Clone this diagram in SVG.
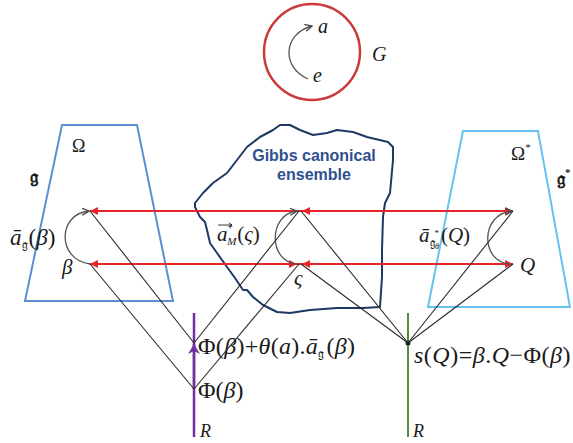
<svg xmlns="http://www.w3.org/2000/svg" width="573" height="443" viewBox="0 0 573 443">
<style>
.m{font-family:"Liberation Serif","DejaVu Serif","DejaVu Sans",serif;fill:#1a1a1a}
.i{font-style:italic}
.blk{stroke:#2a2a2a;stroke-width:1.1;fill:none}
.red{stroke:#e8262a;stroke-width:2;fill:none}
.arc{stroke:#555;stroke-width:1.3;fill:none}
.gb{font-family:"Liberation Sans",Arial,sans-serif;font-weight:bold;font-size:16px;fill:#2f4f8f}
</style>
<defs>
<marker id="ab" markerWidth="8" markerHeight="8" refX="7" refY="4" orient="auto" markerUnits="userSpaceOnUse"><path d="M0,0.5 L7,4 L0,7.5" fill="none" stroke="#444" stroke-width="1.3"/></marker>
<marker id="ar" markerWidth="9" markerHeight="8" refX="8" refY="4" orient="auto-start-reverse" markerUnits="userSpaceOnUse"><path d="M0,0 L8,4 L0,8 z" fill="#e8262a"/></marker>
<marker id="ap" markerWidth="12" markerHeight="12" refX="10" refY="6" orient="auto" markerUnits="userSpaceOnUse"><path d="M0,0 L10,6 L0,12 L3,6 z" fill="#7030a0"/></marker>
</defs>

<g id="group-G">
<circle cx="312" cy="52" r="48" fill="none" stroke="#cc3a3a" stroke-width="2.5"/>
<path d="M308,79 C282,68 282,34 312,26" class="arc" marker-end="url(#ab)"/>
<text x="318" y="33" class="m i" font-size="20">a</text>
<text x="313" y="82" class="m i" font-size="20">e</text>
<text x="372" y="61" class="m i" font-size="20">G</text>
</g>

<g id="omega">
<polygon points="62,125 137,125 173,301 25,301" fill="none" stroke="#5b8fd0" stroke-width="2"/>
<text x="72" y="152" class="m" font-size="18">Ω</text>
<text x="30" y="183" class="m" font-size="19" font-weight="bold">𝔤</text>
<text x="10" y="245" class="m" font-size="23"><tspan class="i">ā</tspan><tspan font-size="13" dy="4">𝔤</tspan><tspan dy="-4" dx="1">(</tspan><tspan class="i">β</tspan>)</text>
<text x="62" y="274" class="m i" font-size="21">β</text>
</g>

<g id="omega-star">
<polygon points="463,131 538,131 570,307 428,307" fill="none" stroke="#66c3ef" stroke-width="2"/>
<text x="511" y="160" class="m" font-size="19">Ω<tspan font-size="11" dy="-9">*</tspan></text>
<text x="557" y="185" class="m" font-size="19" font-weight="bold">𝔤<tspan font-size="11" dy="-9">*</tspan></text>
<text x="419" y="242" class="m" font-size="21"><tspan class="i">ā</tspan><tspan font-size="12" dy="5">𝔤</tspan><tspan font-size="9" dy="-11">*</tspan><tspan font-size="8" dx="-4" dy="13" class="i">θ</tspan><tspan dy="-7" dx="2">(</tspan><tspan class="i">Q</tspan>)</text>
<text x="520" y="272" class="m i" font-size="21">Q</text>
</g>

<g id="gibbs">
<path d="M195,203 L203,193 L213,183 L227,173 L237,160 L247,147 L260,137 L273,130 L280,125 L290,125 L300,130 L313,135 L327,133 L337,130 L353,132 L367,137 L388,142 L393,147 L393,160 L390,193 L385,203 L383,217 L382,250 L382,277 L380,307 L363,308 L337,308 L310,310 L290,313 L277,312 L263,305 L253,297 L247,290 L243,290 L235,278 L227,267 L217,253 L210,243 L207,230 L205,222 L200,217 L195,207 Z" fill="none" stroke="#1f3864" stroke-width="2" stroke-linejoin="round"/>
<text x="314" y="161" class="gb" text-anchor="middle">Gibbs canonical</text>
<text x="314" y="180" class="gb" text-anchor="middle">ensemble</text>
<path d="M218,225 L232,225" stroke="#222" stroke-width="0.9"/>
<path d="M229,223 L232,225 L229,227" stroke="#222" stroke-width="0.9" fill="none"/>
<text x="217" y="241" class="m" font-size="21"><tspan class="i">a</tspan><tspan font-size="10" dy="-11">+</tspan><tspan font-size="11" dx="-6" dy="15" class="i">M</tspan><tspan dy="-4" dx="1">(</tspan><tspan class="i">ς</tspan>)</text>
<text x="294" y="285" class="m i" font-size="21">ς</text>
</g>

<g id="axis-left">
<line x1="194" y1="313" x2="194" y2="437" stroke="#7030a0" stroke-width="2.5"/>
<line x1="194" y1="389" x2="194" y2="344" stroke="#7030a0" stroke-width="2.5" marker-end="url(#ap)"/>
<text x="198" y="354" class="m" font-size="24" letter-spacing="0.3">Φ(<tspan class="i">β</tspan>)+<tspan class="i">θ</tspan>(<tspan class="i">a</tspan>).<tspan class="i">ā</tspan><tspan font-size="13" dy="4">𝔤</tspan><tspan dy="-4" dx="2">(</tspan><tspan class="i">β</tspan>)</text>
<text x="198" y="398" class="m" font-size="24">Φ(<tspan class="i">β</tspan>)</text>
<text x="200" y="437" class="m i" font-size="18">R</text>
</g>

<g id="axis-right">
<line x1="408" y1="313" x2="408" y2="437" stroke="#5a8a3c" stroke-width="2"/>
<circle cx="408" cy="343" r="2.5" fill="#222"/>
<text x="414" y="363" class="m" font-size="24" letter-spacing="0.5"><tspan class="i">s</tspan>(<tspan class="i">Q</tspan>)=<tspan class="i">β</tspan>.<tspan class="i">Q</tspan>−Φ(<tspan class="i">β</tspan>)</text>
<text x="413" y="437" class="m i" font-size="18">R</text>
</g>

<g id="connectors">
<line x1="300" y1="211" x2="90" y2="211" class="red" marker-end="url(#ar)"/>
<line x1="300" y1="211" x2="513" y2="211" class="red" marker-end="url(#ar)"/>
<line x1="300" y1="264" x2="90" y2="264" class="red" marker-end="url(#ar)"/>
<line x1="300" y1="264" x2="513" y2="264" class="red" marker-end="url(#ar)"/>
<path d="M312,211 L302,211" class="red" marker-end="url(#ar)"/>
<path d="M312,264 L302,264" class="red" marker-end="url(#ar)"/>
<path d="M285,264 L297,264" class="red" marker-end="url(#ar)"/>
<path d="M90,264 C57,260 57,214 89,211" class="arc" marker-end="url(#ab)"/>
<path d="M297,264 C268,262 268,214 297,211" class="arc" marker-end="url(#ab)"/>
<path d="M510,264 C480,262 480,214 512,211" class="arc" marker-end="url(#ab)"/>
<line x1="90" y1="211" x2="194" y2="343" class="blk"/>
<line x1="90" y1="264" x2="194" y2="389" class="blk"/>
<line x1="299" y1="211" x2="194" y2="343" class="blk"/>
<line x1="299" y1="264" x2="194" y2="389" class="blk"/>
<line x1="301" y1="211" x2="408" y2="343" class="blk"/>
<line x1="301" y1="264" x2="408" y2="343" class="blk"/>
<line x1="513" y1="211" x2="408" y2="343" class="blk"/>
<line x1="513" y1="264" x2="408" y2="343" class="blk"/>
</g>
</svg>
